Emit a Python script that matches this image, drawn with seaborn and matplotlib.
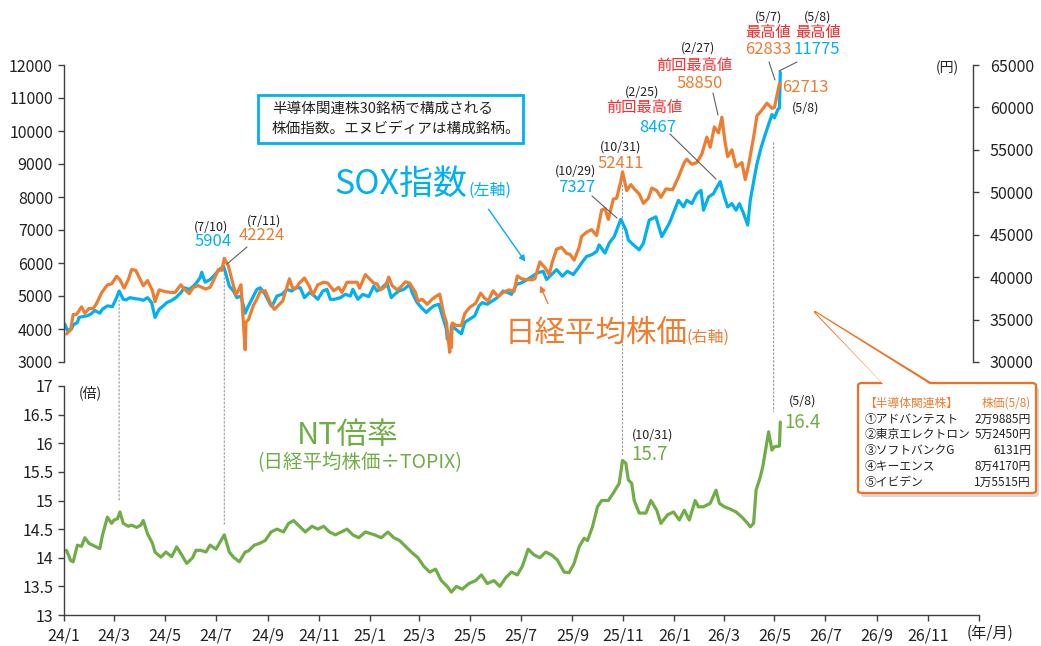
import matplotlib
matplotlib.use("Agg")
import matplotlib.pyplot as plt
import matplotlib.dates as mdates
from matplotlib.patches import FancyBboxPatch, Polygon, ConnectionPatch, FancyArrowPatch
from matplotlib.lines import Line2D
from matplotlib.ticker import FuncFormatter
import pandas as pd
import seaborn as sns

# ---------------- data ----------------
sox_dates = [
    "2024-01-02", "2024-01-05", "2024-01-10", "2024-01-12", "2024-01-17", "2024-01-19", "2024-01-24", "2024-01-29",
    "2024-02-02", "2024-02-07", "2024-02-13", "2024-02-16", "2024-02-22", "2024-02-28", "2024-03-04", "2024-03-07",
    "2024-03-12", "2024-03-15", "2024-03-20", "2024-03-26", "2024-04-01", "2024-04-05", "2024-04-10", "2024-04-15",
    "2024-04-19", "2024-04-24", "2024-04-29", "2024-05-03", "2024-05-08", "2024-05-14", "2024-05-20", "2024-05-24",
    "2024-05-30", "2024-06-04", "2024-06-07", "2024-06-12", "2024-06-14", "2024-06-18", "2024-06-24", "2024-06-28",
    "2024-07-05", "2024-07-10", "2024-07-12", "2024-07-17", "2024-07-22", "2024-07-26", "2024-07-31", "2024-08-05",
    "2024-08-08", "2024-08-13", "2024-08-19", "2024-08-23", "2024-08-29", "2024-09-04", "2024-09-06", "2024-09-12",
    "2024-09-18", "2024-09-24", "2024-09-30", "2024-10-04", "2024-10-10", "2024-10-15", "2024-10-21", "2024-10-25",
    "2024-10-31", "2024-11-06", "2024-11-11", "2024-11-15", "2024-11-20", "2024-11-27", "2024-12-03", "2024-12-09",
    "2024-12-12", "2024-12-18", "2024-12-24", "2024-12-31", "2025-01-06", "2025-01-10", "2025-01-16", "2025-01-22",
    "2025-01-27", "2025-01-31", "2025-02-05", "2025-02-11", "2025-02-18", "2025-02-21", "2025-02-27", "2025-03-04",
    "2025-03-10", "2025-03-14", "2025-03-19", "2025-03-25", "2025-03-28", "2025-04-03", "2025-04-04", "2025-04-08",
    "2025-04-09", "2025-04-14", "2025-04-21", "2025-04-25", "2025-05-01", "2025-05-07", "2025-05-12", "2025-05-16",
    "2025-05-22", "2025-05-28", "2025-06-03", "2025-06-10", "2025-06-16", "2025-06-20", "2025-06-26", "2025-07-02",
    "2025-07-09", "2025-07-15", "2025-07-21", "2025-07-28", "2025-08-01", "2025-08-07", "2025-08-13", "2025-08-20",
    "2025-08-26", "2025-09-02", "2025-09-08", "2025-09-12", "2025-09-18", "2025-09-24", "2025-09-30", "2025-10-03",
    "2025-10-10", "2025-10-15", "2025-10-21", "2025-10-24", "2025-10-29", "2025-11-04", "2025-11-07", "2025-11-13",
    "2025-11-20", "2025-11-25", "2025-12-02", "2025-12-10", "2025-12-17", "2025-12-26", "2026-01-06", "2026-01-12",
    "2026-01-16", "2026-01-22", "2026-01-28", "2026-02-02", "2026-02-05", "2026-02-11", "2026-02-17", "2026-02-20",
    "2026-02-25", "2026-03-02", "2026-03-06", "2026-03-11", "2026-03-16", "2026-03-20", "2026-03-25", "2026-03-30",
    "2026-04-02", "2026-04-07", "2026-04-10", "2026-04-15", "2026-04-20", "2026-04-24", "2026-04-28", "2026-05-01",
    "2026-05-05", "2026-05-07", "2026-05-08",
]
sox_values = [
    4150, 3960, 4000, 4120, 4200, 4350, 4380, 4400,
    4450, 4560, 4480, 4600, 4700, 4680, 4950, 5150,
    4900, 4880, 4950, 4920, 4900, 4870, 4950, 4800,
    4350, 4600, 4700, 4800, 4850, 4950, 5100, 5250,
    5200, 5300, 5380, 5550, 5720, 5420, 5500, 5600,
    5800, 5904, 5750, 5300, 5150, 4950, 5000, 4480,
    4650, 4900, 5200, 5250, 5050, 4750, 4680, 5000,
    5050, 5200, 5150, 5250, 5250, 4950, 5100, 5050,
    4900, 5150, 5200, 4900, 4900, 4950, 5050, 5000,
    5200, 4900, 5050, 4980, 5300, 5150, 5250, 5400,
    4950, 5050, 5150, 5200, 5350, 5100, 4800, 4650,
    4500, 4600, 4700, 4750, 4500, 4000, 3700, 3650,
    4100, 4000, 3850, 4200, 4300, 4400, 4700, 4800,
    4750, 4850, 4950, 5150, 5100, 5050, 5350, 5400,
    5500, 5600, 5700, 5750, 5500, 5650, 5800, 5600,
    5750, 5650, 5850, 6000, 6200, 6250, 6350, 6550,
    6300, 6600, 6800, 7000, 7327, 7000, 6700, 6550,
    6400, 6600, 7300, 7400, 6800, 7200, 7900, 7700,
    7900, 7800, 8100, 8200, 7600, 8000, 8100, 8250,
    8467, 8000, 7700, 7800, 7600, 7800, 7500, 7150,
    7900, 8600, 9000, 9500, 9900, 10200, 10500, 10400,
    10650, 10700, 11775,
]

nikkei_dates = [
    "2024-01-04", "2024-01-09", "2024-01-12", "2024-01-16", "2024-01-22", "2024-01-26", "2024-01-31", "2024-02-05",
    "2024-02-09", "2024-02-15", "2024-02-22", "2024-02-27", "2024-03-04", "2024-03-08", "2024-03-13", "2024-03-18",
    "2024-03-22", "2024-03-27", "2024-04-01", "2024-04-05", "2024-04-10", "2024-04-16", "2024-04-19", "2024-04-24",
    "2024-05-01", "2024-05-08", "2024-05-13", "2024-05-20", "2024-05-24", "2024-05-30", "2024-06-04", "2024-06-10",
    "2024-06-14", "2024-06-19", "2024-06-24", "2024-06-28", "2024-07-04", "2024-07-08", "2024-07-11", "2024-07-16",
    "2024-07-19", "2024-07-25", "2024-07-31", "2024-08-02", "2024-08-05", "2024-08-06", "2024-08-09", "2024-08-15",
    "2024-08-19", "2024-08-23", "2024-08-29", "2024-09-04", "2024-09-09", "2024-09-13", "2024-09-19", "2024-09-27",
    "2024-10-01", "2024-10-04", "2024-10-09", "2024-10-15", "2024-10-21", "2024-10-25", "2024-10-31", "2024-11-07",
    "2024-11-12", "2024-11-19", "2024-11-25", "2024-11-29", "2024-12-05", "2024-12-11", "2024-12-17", "2024-12-20",
    "2024-12-27", "2025-01-06", "2025-01-10", "2025-01-14", "2025-01-20", "2025-01-24", "2025-01-28", "2025-02-03",
    "2025-02-07", "2025-02-13", "2025-02-18", "2025-02-25", "2025-02-28", "2025-03-05", "2025-03-11", "2025-03-17",
    "2025-03-21", "2025-03-26", "2025-03-31", "2025-04-03", "2025-04-07", "2025-04-08", "2025-04-09", "2025-04-10",
    "2025-04-15", "2025-04-21", "2025-04-25", "2025-05-01", "2025-05-08", "2025-05-14", "2025-05-19", "2025-05-23",
    "2025-05-29", "2025-06-04", "2025-06-10", "2025-06-17", "2025-06-23", "2025-06-27", "2025-07-02", "2025-07-08",
    "2025-07-15", "2025-07-18", "2025-07-24", "2025-07-31", "2025-08-04", "2025-08-08", "2025-08-13", "2025-08-19",
    "2025-08-25", "2025-08-29", "2025-09-03", "2025-09-09", "2025-09-12", "2025-09-18", "2025-09-24", "2025-09-30",
    "2025-10-06", "2025-10-10", "2025-10-14", "2025-10-20", "2025-10-24", "2025-10-29", "2025-10-31", "2025-11-05",
    "2025-11-10", "2025-11-14", "2025-11-20", "2025-11-25", "2025-12-01", "2025-12-05", "2025-12-11", "2025-12-16",
    "2025-12-22", "2025-12-30", "2026-01-06", "2026-01-13", "2026-01-16", "2026-01-22", "2026-01-28", "2026-02-03",
    "2026-02-09", "2026-02-13", "2026-02-18", "2026-02-23", "2026-02-27", "2026-03-03", "2026-03-06", "2026-03-11",
    "2026-03-16", "2026-03-23", "2026-03-27", "2026-03-31", "2026-04-06", "2026-04-10", "2026-04-16", "2026-04-22",
    "2026-04-28", "2026-05-01", "2026-05-07", "2026-05-08",
]
nikkei_values = [
    33300, 33800, 35600, 35600, 36500, 35750, 36300, 36300,
    36900, 38150, 39100, 39200, 40100, 39700, 38700, 39700,
    40900, 40800, 39800, 38990, 39600, 38400, 37100, 38500,
    38300, 38200, 38200, 39100, 38600, 38050, 38800, 39000,
    38800, 38600, 38800, 39600, 40900, 40800, 42224, 41300,
    40100, 37900, 39100, 35900, 31458, 34700, 35000, 36700,
    37400, 38300, 38400, 37000, 36200, 36600, 37200, 39800,
    38700, 38600, 39300, 39900, 38900, 37900, 39100, 39400,
    39300, 38400, 38800, 38200, 39400, 39400, 39400, 38700,
    40300, 39300, 39200, 38500, 38900, 40000, 39000, 38500,
    38800, 39450, 39300, 38200, 37150, 37400, 36800, 37400,
    37700, 38000, 35600, 34700, 31136, 33000, 31700, 34600,
    34300, 34300, 35700, 36450, 36900, 38100, 37500, 37200,
    38400, 37700, 38200, 38500, 38300, 40150, 39800, 39700,
    39700, 39800, 41800, 41000, 40300, 41800, 43300, 43500,
    42800, 42700, 42000, 43500, 44800, 45300, 45600, 44900,
    47900, 48100, 46800, 49200, 49300, 51300, 52411, 50200,
    50900, 50400, 49800, 48700, 49300, 50500, 50200, 49400,
    50400, 50300, 51800, 53500, 53900, 53300, 53500, 54500,
    56500, 55300, 57700, 57000, 58850, 55800, 54200, 55000,
    53000, 53500, 51500, 53200, 56500, 59000, 59700, 60500,
    59900, 60000, 62833, 62713,
]

nt_dates = [
    "2024-01-04", "2024-01-09", "2024-01-12", "2024-01-17", "2024-01-22", "2024-01-26", "2024-01-31", "2024-02-07",
    "2024-02-13", "2024-02-16", "2024-02-22", "2024-02-27", "2024-03-01", "2024-03-05", "2024-03-08", "2024-03-12",
    "2024-03-18", "2024-03-22", "2024-03-28", "2024-04-02", "2024-04-05", "2024-04-10", "2024-04-16", "2024-04-19",
    "2024-04-26", "2024-05-02", "2024-05-09", "2024-05-15", "2024-05-21", "2024-05-27", "2024-06-03", "2024-06-07",
    "2024-06-13", "2024-06-19", "2024-06-24", "2024-07-01", "2024-07-05", "2024-07-11", "2024-07-17", "2024-07-22",
    "2024-07-29", "2024-08-05", "2024-08-09", "2024-08-16", "2024-08-22", "2024-08-29", "2024-09-05", "2024-09-12",
    "2024-09-20", "2024-09-26", "2024-10-02", "2024-10-09", "2024-10-16", "2024-10-24", "2024-10-31", "2024-11-07",
    "2024-11-14", "2024-11-21", "2024-11-28", "2024-12-05", "2024-12-12", "2024-12-19", "2024-12-27", "2025-01-07",
    "2025-01-15", "2025-01-23", "2025-01-30", "2025-02-06", "2025-02-13", "2025-02-20", "2025-02-28", "2025-03-07",
    "2025-03-14", "2025-03-21", "2025-03-28", "2025-04-04", "2025-04-09", "2025-04-15", "2025-04-22", "2025-04-30",
    "2025-05-08", "2025-05-15", "2025-05-22", "2025-05-30", "2025-06-06", "2025-06-13", "2025-06-20", "2025-06-27",
    "2025-07-03", "2025-07-10", "2025-07-17", "2025-07-24", "2025-07-31", "2025-08-07", "2025-08-14", "2025-08-22",
    "2025-08-28", "2025-09-03", "2025-09-09", "2025-09-15", "2025-09-19", "2025-09-25", "2025-10-01", "2025-10-06",
    "2025-10-14", "2025-10-20", "2025-10-27", "2025-10-31", "2025-11-04", "2025-11-07", "2025-11-11", "2025-11-14",
    "2025-11-20", "2025-11-28", "2025-12-04", "2025-12-11", "2025-12-16", "2025-12-24", "2025-12-31", "2026-01-07",
    "2026-01-13", "2026-01-19", "2026-01-26", "2026-01-30", "2026-02-05", "2026-02-13", "2026-02-20", "2026-02-24",
    "2026-03-02", "2026-03-09", "2026-03-16", "2026-03-23", "2026-03-30", "2026-04-02", "2026-04-06", "2026-04-09",
    "2026-04-14", "2026-04-17", "2026-04-21", "2026-04-24", "2026-04-28", "2026-05-01", "2026-05-07", "2026-05-08",
]
nt_values = [
    14.13, 13.95, 13.93, 14.22, 14.20, 14.35, 14.25, 14.20,
    14.16, 14.39, 14.71, 14.60, 14.66, 14.68, 14.80, 14.60,
    14.55, 14.57, 14.53, 14.57, 14.65, 14.42, 14.25, 14.10,
    14.01, 14.10, 14.02, 14.19, 14.05, 13.90, 14.00, 14.13,
    14.13, 14.10, 14.22, 14.15, 14.25, 14.40, 14.10, 14.01,
    13.93, 14.10, 14.12, 14.22, 14.25, 14.30, 14.45, 14.50,
    14.45, 14.60, 14.65, 14.55, 14.45, 14.55, 14.50, 14.55,
    14.45, 14.40, 14.45, 14.50, 14.40, 14.35, 14.45, 14.40,
    14.35, 14.45, 14.35, 14.30, 14.20, 14.10, 14.00, 13.85,
    13.75, 13.80, 13.60, 13.50, 13.40, 13.50, 13.45, 13.55,
    13.60, 13.70, 13.55, 13.60, 13.50, 13.65, 13.75, 13.70,
    13.85, 14.15, 14.05, 14.00, 14.10, 14.05, 13.96, 13.75,
    13.74, 13.90, 14.19, 14.34, 14.30, 14.54, 14.89, 15.00,
    15.00, 15.13, 15.30, 15.70, 15.65, 15.36, 15.30, 15.00,
    14.78, 14.78, 15.00, 14.83, 14.60, 14.75, 14.80, 14.66,
    14.83, 14.66, 15.00, 14.89, 14.89, 14.95, 15.18, 14.95,
    14.89, 14.85, 14.80, 14.71, 14.60, 14.54, 14.60, 15.18,
    15.41, 15.59, 15.94, 16.20, 15.88, 15.94, 15.95, 16.37,
]

x_tick_dates = ["2024-01-01", "2024-03-01", "2024-05-01", "2024-07-01", "2024-09-01", "2024-11-01",
                "2025-01-01", "2025-03-01", "2025-05-01", "2025-07-01", "2025-09-01", "2025-11-01",
                "2026-01-01", "2026-03-01", "2026-05-01", "2026-07-01", "2026-09-01", "2026-11-01",
                "2027-01-01"]
x_tick_labels = ["24/1", "24/3", "24/5", "24/7", "24/9", "24/11", "25/1", "25/3", "25/5", "25/7",
                 "25/9", "25/11", "26/1", "26/3", "26/5", "26/7", "26/9", "26/11", ""]
sox_ticks = [3000, 4000, 5000, 6000, 7000, 8000, 9000, 10000, 11000, 12000]
nikkei_ticks = [30000, 35000, 40000, 45000, 50000, 55000, 60000, 65000]
nt_ticks = [13, 13.5, 14, 14.5, 15, 15.5, 16, 16.5, 17]

stocks = ["①アドバンテスト", "②東京エレクトロン", "③ソフトバンクG", "④キーエンス", "⑤イビデン"]
prices = ["2万9885円", "5万2450円", "6131円", "8万4170円", "1万5515円"]

# ---------------- style ----------------
sns.set_theme(style="white")
plt.rcParams['font.family'] = ['Noto Sans CJK JP', 'DejaVu Sans']
plt.rcParams['axes.unicode_minus'] = False

BLUE = "#00B0F0"
ORANGE = "#ED7D31"
GREEN = "#70AD47"
RED = "#FF2A2A"
DARK = "#404040"
TXT = "#222222"

W, H = 1041, 646
fig = plt.figure(figsize=(W / 100, H / 100), dpi=100)
fig.patch.set_facecolor("white")


def P(x, y):
    return (x / W, 1 - y / H)


L = 64 / W
AW = (979 - 64) / W
ax1 = fig.add_axes([L, 1 - 362 / H, AW, (362 - 65) / H])
ax2 = ax1.twinx()
ax3 = fig.add_axes([L, 1 - 615 / H, AW, (615 - 386) / H])

sox_df = pd.DataFrame({"date": pd.to_datetime(sox_dates), "value": sox_values})
nk_df = pd.DataFrame({"date": pd.to_datetime(nikkei_dates), "value": nikkei_values})
nt_df = pd.DataFrame({"date": pd.to_datetime(nt_dates), "value": nt_values})

sns.lineplot(data=sox_df, x="date", y="value", ax=ax1, color=BLUE, lw=2.3, estimator=None, sort=False)
sns.lineplot(data=nk_df, x="date", y="value", ax=ax2, color=ORANGE, lw=2.3, estimator=None, sort=False)
sns.lineplot(data=nt_df, x="date", y="value", ax=ax3, color=GREEN, lw=2.3, estimator=None, sort=False)

xmin, xmax = pd.Timestamp("2024-01-01"), pd.Timestamp("2027-01-01")
for ax in (ax1, ax2, ax3):
    ax.set_xlim(xmin, xmax)
    ax.set_xlabel("")
    ax.set_ylabel("")
    ax.set_facecolor("none")
    for s in ax.spines.values():
        s.set_visible(False)
        s.set_color(DARK)
        s.set_linewidth(1.0)
    ax.grid(False)

ax1.set_zorder(1)
ax2.set_zorder(2)

# top-left axis
ax1.set_ylim(3000, 12000)
ax1.set_yticks(sox_ticks)
ax1.spines["left"].set_visible(True)
ax1.set_xticks([])
ax1.tick_params(axis="y", direction="out", length=4, width=1, color=DARK, labelsize=11.5, labelcolor=TXT, pad=4, left=True)

# top-right axis
ax2.set_ylim(30000, 65000)
ax2.set_yticks(nikkei_ticks)
ax2.spines["right"].set_visible(True)
ax2.spines["right"].set_position(("axes", 0.9934))
ax2.set_xticks([])
ax2.tick_params(axis="y", direction="out", length=4, width=1, color=DARK, labelsize=11.5, labelcolor=TXT, pad=8, right=True)

# bottom axis
ax3.set_ylim(13, 17)
ax3.set_yticks(nt_ticks)
ax3.yaxis.set_major_formatter(FuncFormatter(lambda v, p: f"{v:g}"))
ax3.spines["left"].set_visible(True)
ax3.spines["bottom"].set_visible(True)
ax3.set_xticks(pd.to_datetime(x_tick_dates))
ax3.set_xticklabels(x_tick_labels)
ax3.tick_params(axis="both", direction="out", length=4, width=1, color=DARK, labelsize=11.5, labelcolor=TXT,
                left=True, bottom=True)
ax3.tick_params(axis="x", pad=5)

# ---------------- dotted vertical guides ----------------
guides = [("2024-03-07", 4880, 15.0), ("2024-07-11", 6030, 14.57),
          ("2025-10-31", 8360, 15.8), ("2026-04-30", 9640, 16.55)]
for d, ytop, ybot in guides:
    dn = mdates.date2num(pd.Timestamp(d))
    cp = ConnectionPatch(xyA=(dn, ytop), coordsA=ax1.transData, xyB=(dn, ybot), coordsB=ax3.transData,
                         color="#9a9a9a", lw=0.8, linestyle=(0, (1.5, 2)), zorder=0.5)
    fig.add_artist(cp)


def T(x, y, s, size, color=TXT, ha="center", **kw):
    fig.text(*P(x, y), s, fontsize=size, color=color, ha=ha, va="center", **kw)


def leader(x1, y1, x2, y2, color="#606060", lw=0.8):
    fig.add_artist(Line2D([x1 / W, x2 / W], [1 - y1 / H, 1 - y2 / H], transform=fig.transFigure,
                          color=color, lw=lw, zorder=5))


# axis unit labels
T(90, 393, "(倍)", 10)
T(947, 68, "(円)", 10)
T(990, 633, "(年/月)", 11)

# info box
box = FancyBboxPatch(P(258, 143), (523 - 258) / W, (143 - 95) / H, boxstyle="square,pad=0",
                     transform=fig.transFigure, fc="white", ec=BLUE, lw=2.0, zorder=3)
fig.add_artist(box)
T(272, 109, "半導体関連株30銘柄で構成される", 10.5, ha="left", zorder=4)
T(272, 130, "株価指数。エヌビディアは構成銘柄。", 10.5, ha="left", zorder=4)

# series labels
T(334, 184, "SOX指数", 24.5, color=BLUE, ha="left")
T(469, 190, "(左軸)", 11.5, color=BLUE, ha="left")
T(505, 333, "日経平均株価", 22, color=ORANGE, ha="left")
T(686, 337, "(右軸)", 11.5, color=ORANGE, ha="left")
T(348, 436, "NT倍率", 22, color=GREEN)
T(360, 463, "(日経平均株価÷TOPIX)", 14, color=GREEN)

fig.add_artist(FancyArrowPatch(P(487, 207), P(527, 264), transform=fig.transFigure, arrowstyle="-|>",
                               mutation_scale=9, color=BLUE, lw=1.0, zorder=5))
fig.add_artist(FancyArrowPatch(P(549, 306), P(539, 283), transform=fig.transFigure, arrowstyle="-|>",
                               mutation_scale=9, color=ORANGE, lw=1.0, zorder=5))

# point annotations
T(211, 227, "(7/10)", 9)
T(213, 241, "5904", 12, color=BLUE)
T(264, 221, "(7/11)", 9)
T(262, 236, "42224", 12, color=ORANGE)
leader(247, 247, 227, 264)

T(576, 171, "(10/29)", 9)
T(577, 187, "7327", 12, color=BLUE)
leader(592, 196, 617, 218)

T(621, 147, "(10/31)", 9)
T(621, 163, "52411", 12, color=ORANGE)

T(642, 92, "(2/25)", 9)
T(644, 107, "前回最高値", 11, color=RED)
T(658, 127, "8467", 12, color=BLUE)
leader(670, 134, 716, 179)

T(698, 48, "(2/27)", 9)
T(694, 65, "前回最高値", 11, color=RED)
T(700, 84, "58850", 12, color=ORANGE)
leader(713, 93, 718, 115)

T(768, 17, "(5/7)", 9)
T(768, 33, "最高値", 11, color=RED)
T(768, 50, "62833", 12, color=ORANGE)
leader(769, 62, 775, 80)

T(818, 17, "(5/8)", 9)
T(818, 33, "最高値", 11, color=RED)
T(817, 50, "11775", 12, color=BLUE)
leader(797, 62, 779, 71)

T(805, 88, "62713", 12, color=ORANGE)
T(806, 108, "(5/8)", 9)

T(653, 435, "(10/31)", 9)
T(650, 454, "15.7", 13.5, color=GREEN)
T(803, 401, "(5/8)", 9)
T(803, 422, "16.4", 13.5, color=GREEN)

# callout box with shadow and tail
shadow = FancyBboxPatch(P(861, 497), (1036 - 858) / W, (493 - 383) / H,
                        boxstyle="round,pad=0,rounding_size=0.004", transform=fig.transFigure,
                        fc="#bdbdbd", ec="none", alpha=0.6, zorder=6)
fig.add_artist(shadow)
cbox = FancyBboxPatch(P(858, 493), (1036 - 858) / W, (493 - 383) / H,
                      boxstyle="round,pad=0,rounding_size=0.004", transform=fig.transFigure,
                      fc="white", ec="#F07020", lw=1.6, zorder=7)
fig.add_artist(cbox)
tail = Polygon([P(884, 385), P(815, 312), P(931, 385)], closed=True, transform=fig.transFigure,
               fc="white", ec="none", zorder=8)
fig.add_artist(tail)
leader(884, 383.5, 815, 312, color="#F07020", lw=1.6)
leader(931, 383.5, 815, 312, color="#F07020", lw=1.6)

T(864, 403, "【半導体関連株】", 8.5, color=ORANGE, ha="left", zorder=9)
T(1031, 403, "株価(5/8)", 8.5, color=ORANGE, ha="right", zorder=9)
for i, (s, p) in enumerate(zip(stocks, prices)):
    y = 419 + i * 15.8
    T(865, y, s, 8.5, ha="left", zorder=9)
    T(1031, y, p, 8.5, ha="right", zorder=9)

fig.savefig("out.png", dpi=100, facecolor="white")
